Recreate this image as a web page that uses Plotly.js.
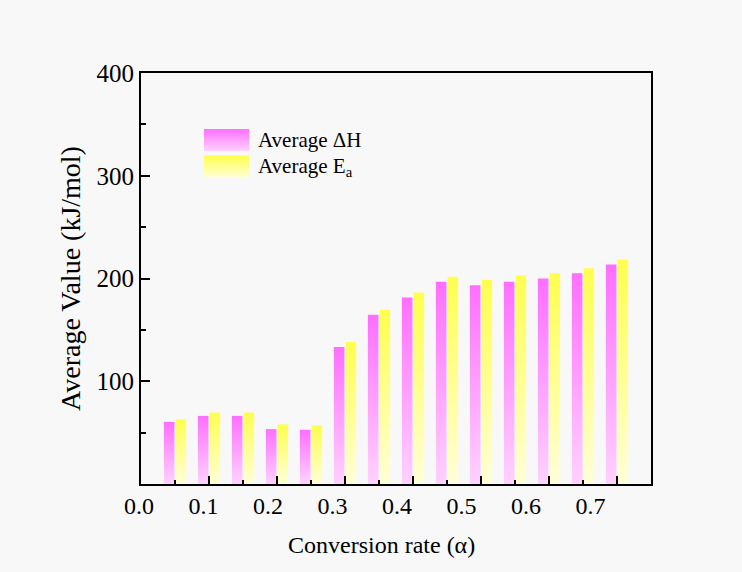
<!DOCTYPE html>
<html>
<head>
<meta charset="utf-8">
<script src="https://cdn.plot.ly/plotly-3.0.1.min.js"></script>
<style>
html,body{margin:0;padding:0;background:#ffffff;}
#chart{width:742px;height:572px;}
</style>
</head>
<body>
<div id="chart"></div>
<script>
// Data
const conversionRate = [0.05, 0.10, 0.15, 0.20, 0.25, 0.30, 0.35, 0.40, 0.45, 0.50, 0.55, 0.60, 0.65, 0.70];
const avgDeltaH      = [60.5, 66.3, 66.3, 53.4, 52.7, 133.3, 164.7, 181.6, 196.8, 193.5, 196.8, 200.0, 205.2, 213.6];
const avgEa          = [63.0, 69.6, 69.6, 58.0, 57.0, 138.2, 169.6, 186.4, 201.6, 198.7, 202.9, 205.2, 210.0, 218.4];
const xTickVals  = [0.0, 0.1, 0.2, 0.3, 0.4, 0.5, 0.6, 0.7];
const xTickText  = ['0.0', '0.1', '0.2', '0.3', '0.4', '0.5', '0.6', '0.7'];
const yTickVals  = [100, 200, 300, 400];
const yMinorVals = [50, 150, 250, 350];
const seriesNames = ['Average ΔH', 'Average E<sub>a</sub>'];

const FONT = 'Liberation Serif, Times New Roman, serif';

const traces = [
  {type: 'bar', name: seriesNames[0], x: conversionRate, y: avgDeltaH,
   marker: {color: '#FF9CFF', line: {width: 0}}, showlegend: false, hoverinfo: 'none'},
  {type: 'bar', name: seriesNames[1], x: conversionRate, y: avgEa,
   marker: {color: '#FFFF99', line: {width: 0}}, showlegend: false, hoverinfo: 'none'},
  // invisible trace that carries the tick-label axis
  {type: 'scatter', x: [0.4], y: [0], xaxis: 'x2', yaxis: 'y', mode: 'none',
   showlegend: false, hoverinfo: 'none'}
];

const layout = {
  width: 742, height: 572,
  margin: {l: 141, r: 91, t: 73, b: 88},
  paper_bgcolor: '#F8F8F8',
  plot_bgcolor: '#F8F8F8',
  font: {family: FONT, color: '#000000', size: 22},
  barmode: 'group',
  bargap: 0.31,
  bargroupgap: 0.1,
  showlegend: false,
  xaxis: {
    range: [0, 0.75],
    tick0: 0, dtick: 0.1,
    ticks: 'inside', ticklen: 8, tickwidth: 2, tickcolor: '#000',
    showticklabels: false,
    minor: {dtick: 0.05, ticks: 'inside', ticklen: 4, tickwidth: 2, tickcolor: '#000'},
    showline: true, linecolor: '#000', linewidth: 2, mirror: true,
    showgrid: false, zeroline: false
  },
  xaxis2: {
    overlaying: 'x', anchor: 'y', side: 'bottom',
    range: [0, 0.7907],
    tickvals: xTickVals, ticktext: xTickText,
    ticks: '', showline: false, showgrid: false, zeroline: false,
    tickfont: {family: FONT, size: 24, color: '#000'},
    ticklabelshift: -2,
    ticklabelstandoff: 5
  },
  yaxis: {
    range: [0, 400],
    tickvals: yTickVals,
    ticks: 'inside', ticklen: 9, tickwidth: 2, tickcolor: '#000',
    minor: {tickvals: yMinorVals, ticks: 'inside', ticklen: 5, tickwidth: 2, tickcolor: '#000'},
    tickfont: {family: FONT, size: 25, color: '#000'},
    showline: true, linecolor: '#000', linewidth: 2, mirror: true,
    showgrid: false, zeroline: false,
    title: {text: 'Average Value (kJ/mol)', font: {family: FONT, size: 28, color: '#000'}, standoff: 8}
  },
  shapes: [
    {type: 'rect', xref: 'paper', yref: 'paper', x0: 0.1235, x1: 0.2118, y0: 0.810, y1: 0.864,
     fillcolor: '#FF9CFF', line: {width: 0}},
    {type: 'rect', xref: 'paper', yref: 'paper', x0: 0.1235, x1: 0.2118, y0: 0.745, y1: 0.799,
     fillcolor: '#FFFF99', line: {width: 0}}
  ],
  annotations: [
    {xref: 'paper', yref: 'paper', x: 0.225, y: 0.837, xanchor: 'left', yanchor: 'middle',
     text: seriesNames[0], showarrow: false, font: {family: FONT, size: 21, color: '#000'}},
    {xref: 'paper', yref: 'paper', x: 0.225, y: 0.772, xanchor: 'left', yanchor: 'middle',
     text: seriesNames[1], showarrow: false, font: {family: FONT, size: 21, color: '#000'}},
    {xref: 'paper', yref: 'paper', x: 0.472, y: -0.148, xanchor: 'center', yanchor: 'middle',
     text: 'Conversion rate (α)', showarrow: false, font: {family: FONT, size: 24, color: '#000'}}
  ]
};

Plotly.newPlot('chart', traces, layout, {displayModeBar: false, staticPlot: true}).then(function (gd) {
  const svg = gd.querySelector('svg.main-svg');
  const NS = 'http://www.w3.org/2000/svg';
  let defs = svg.querySelector('defs');
  if (!defs) { defs = document.createElementNS(NS, 'defs'); svg.insertBefore(defs, svg.firstChild); }
  function grad(id, top, bottom) {
    const g = document.createElementNS(NS, 'linearGradient');
    g.setAttribute('id', id);
    g.setAttribute('x1', '0'); g.setAttribute('y1', '0');
    g.setAttribute('x2', '0'); g.setAttribute('y2', '1');
    const s1 = document.createElementNS(NS, 'stop');
    s1.setAttribute('offset', '0'); s1.setAttribute('stop-color', top);
    const s2 = document.createElementNS(NS, 'stop');
    s2.setAttribute('offset', '1'); s2.setAttribute('stop-color', bottom);
    g.appendChild(s1); g.appendChild(s2);
    defs.appendChild(g);
  }
  grad('gradPink', '#FF6EFF', '#FFD2FF');
  grad('gradYellow', '#FFFF4E', '#FFFFD8');
  const ids = ['gradPink', 'gradYellow'];
  gd.querySelectorAll('.barlayer .trace').forEach(function (t, i) {
    t.querySelectorAll('path').forEach(function (p) { p.style.fill = 'url(#' + ids[i] + ')'; });
  });
  gd.querySelectorAll('.shapelayer path').forEach(function (p, i) {
    if (i < 2) p.style.fill = 'url(#' + ids[i] + ')';
  });
});
</script>
</body>
</html>
